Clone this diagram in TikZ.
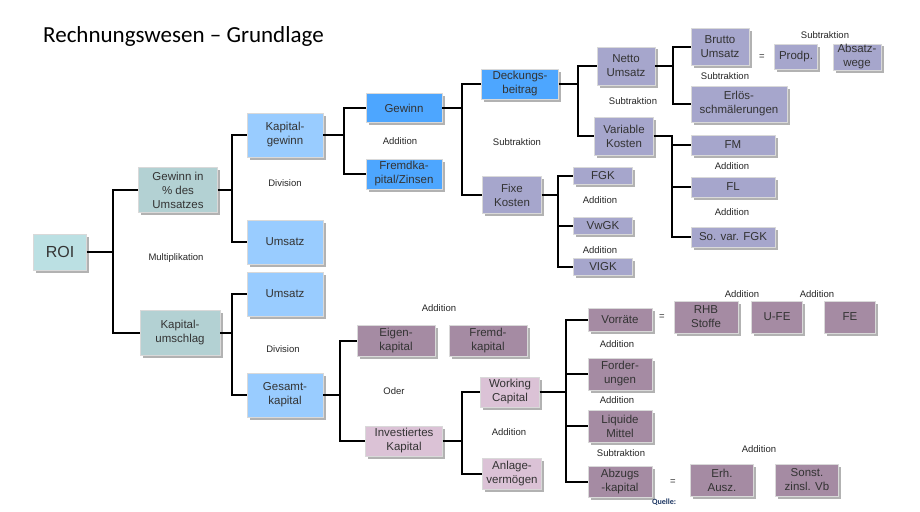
\documentclass[tikz,border=0pt]{standalone}
\usepackage{fontspec}
\setmainfont{Liberation Sans}
\newfontfamily\titlefont{Carlito}
\usetikzlibrary{shadows}
\definecolor{roicol}{HTML}{BBE0E3}
\definecolor{tealcol}{HTML}{B3D1D3}
\definecolor{lblue}{HTML}{99CCFF}
\definecolor{dblue}{HTML}{4DA6FF}
\definecolor{lav}{HTML}{A6A6CC}
\definecolor{mauve}{HTML}{A58BA3}
\definecolor{pink}{HTML}{DBC2D6}
\definecolor{quellecol}{HTML}{1F3864}
\tikzset{
  box/.style={draw=gray!30, line width=0.5pt, inner sep=0pt, align=center, text=black!80,
    font=\fontsize{11.5}{14}\selectfont,
    drop shadow={shadow xshift=2.5pt, shadow yshift=-2.5pt, fill=black!30, opacity=1}},
  sz/.style 2 args={minimum width=#1pt, minimum height=#2pt},
  lbl/.style={inner sep=0pt, text=black!85, font=\fontsize{9.5}{11}\selectfont},
  conn/.style={line width=1.6pt, black}
}
\begin{document}
\begin{tikzpicture}[x=1pt,y=-1pt]
\fill[white] (0,0) rectangle (920,511);
\useasboundingbox (0,0) rectangle (920,511);
\node[anchor=base west, inner sep=0pt, font=\titlefont\fontsize{23}{27}\selectfont] (title) at (43,42) {Rechnungswesen – Grundlage};
\node[box, sz={53}{36}, fill=roicol, font=\fontsize{16}{18}\selectfont] (roi) at (60,252) {ROI};
\node[box, sz={79}{45}, fill=tealcol] (gpu) at (178,190) {Gewinn in\\\% des\\Umsatzes};
\node[box, sz={80}{45}, fill=tealcol] (kum) at (180,333) {Kapital-\\umschlag};
\node[box, sz={76}{44}, fill=lblue] (kgw) at (285,135) {Kapital-\\gewinn};
\node[box, sz={76}{44}, fill=lblue] (ums1) at (285,242) {Umsatz};
\node[box, sz={76}{44}, fill=lblue] (ums2) at (285,294) {Umsatz};
\node[box, sz={76}{44}, fill=lblue] (gka) at (285,395) {Gesamt-\\kapital};
\node[box, sz={76}{29}, fill=dblue] (gew) at (404,108) {Gewinn};
\node[box, sz={76}{30}, fill=dblue] (fkz) at (404,174) {Fremdka-\\pital/Zinsen};
\node[box, sz={77}{30}, fill=dblue] (dbt) at (520,84) {Deckungs-\\beitrag};
\node[box, sz={59}{37}, fill=lav] (fix) at (512,195) {Fixe\\Kosten};
\node[box, sz={58}{38}, fill=lav] (net) at (626,66) {Netto\\Umsatz};
\node[box, sz={59}{38}, fill=lav] (var) at (624,136) {Variable\\Kosten};
\node[box, sz={58}{37}, fill=lav] (bru) at (720,47) {Brutto\\Umsatz};
\node[box, sz={43}{25}, fill=lav] (prd) at (796,57) {Prodp.};
\node[box, sz={48}{26}, fill=lav] (abw) at (857,57) {Absatz-\\wege};
\node[box, sz={96}{36}, fill=lav] (erl) at (739,104) {Erlös-\\schmälerungen};
\node[box, sz={84}{20}, fill=lav] (fm) at (733,145) {FM};
\node[box, sz={84}{20}, fill=lav] (fl) at (733,187) {FL};
\node[box, sz={84}{20}, fill=lav] (svf) at (733,237) {So. var. FGK};
\node[box, sz={59}{17}, fill=lav] (fgk) at (603,176) {FGK};
\node[box, sz={59}{17}, fill=lav] (vwg) at (603,226) {VwGK};
\node[box, sz={59}{17}, fill=lav] (vig) at (603,267) {VIGK};
\node[box, sz={78}{31}, fill=mauve] (eig) at (396,341) {Eigen-\\kapital};
\node[box, sz={78}{31}, fill=mauve] (frk) at (488,341) {Fremd-\\kapital};
\node[box, sz={77}{30}, fill=pink] (inv) at (404,441) {Investiertes\\Kapital};
\node[box, sz={59}{30}, fill=pink] (wcp) at (510,392) {Working\\Capital};
\node[box, sz={59}{31}, fill=pink] (anl) at (512,474) {Anlage-\\vermögen};
\node[box, sz={64}{23}, fill=mauve] (vor) at (620,320) {Vorräte};
\node[box, sz={64}{32}, fill=mauve] (rhb) at (706,317) {RHB\\Stoffe};
\node[box, sz={51}{32}, fill=mauve] (ufe) at (777,317) {U-FE};
\node[box, sz={51}{32}, fill=mauve] (fe) at (850,317) {FE};
\node[box, sz={64}{32}, fill=mauve] (ford) at (620,374) {Forder-\\ungen};
\node[box, sz={64}{32}, fill=mauve] (liq) at (620,426) {Liquide\\Mittel};
\node[box, sz={64}{31}, fill=mauve] (abz) at (620,482) {Abzugs\\-kapital};
\node[box, sz={63}{32}, fill=mauve] (erh) at (722,480) {Erh.\\Ausz.};
\node[box, sz={63}{32}, fill=mauve] (son) at (807,480) {Sonst.\\zinsl. Vb};
\node[lbl] (l1) at (176,258) {Multiplikation};
\node[lbl] (l2) at (285,183) {Division};
\node[lbl] (l3) at (400,141) {Addition};
\node[lbl] (l4) at (517,142) {Subtraktion};
\node[lbl] (l5) at (633,101) {Subtraktion};
\node[lbl] (l6) at (725,76) {Subtraktion};
\node[lbl] (l7) at (825,35) {Subtraktion};
\node[lbl] (l8) at (762,57) {=};
\node[lbl] (l9) at (732,166) {Addition};
\node[lbl] (l10) at (732,212) {Addition};
\node[lbl] (l11) at (600,200) {Addition};
\node[lbl] (l12) at (600,250) {Addition};
\node[lbl] (l13) at (283,349) {Division};
\node[lbl] (l14) at (439,308) {Addition};
\node[lbl] (l15) at (394,391) {Oder};
\node[lbl] (l16) at (509,432) {Addition};
\node[lbl] (l17) at (662,317) {=};
\node[lbl] (l18) at (742,294) {Addition};
\node[lbl] (l19) at (817,294) {Addition};
\node[lbl] (l20) at (617,344) {Addition};
\node[lbl] (l21) at (617,400) {Addition};
\node[lbl] (l22) at (621,453) {Subtraktion};
\node[lbl] (l23) at (673,482) {=};
\node[lbl] (l24) at (759,449) {Addition};
\node[inner sep=0pt, text=quellecol, font=\titlefont\bfseries\fontsize{8}{9}\selectfont] (quelle) at (664,502) {Quelle:};
\draw[conn](roi.east) -- ++(26,0) |- (gpu.west);
\draw[conn](roi.east) -- ++(26,0) |- (kum.west);
\draw[conn](gpu.east) -- ++(14,0) |- (kgw.west);
\draw[conn](gpu.east) -- ++(14,0) |- (ums1.west);
\draw[conn](kum.east) -- ++(12,0) |- (ums2.west);
\draw[conn](kum.east) -- ++(12,0) |- (gka.west);
\draw[conn](kgw.east) -- ++(21,0) |- (gew.west);
\draw[conn](kgw.east) -- ++(21,0) |- (fkz.west);
\draw[conn](gew.east) -- ++(20,0) |- (dbt.west);
\draw[conn](gew.east) -- ++(20,0) |- (fix.west);
\draw[conn](dbt.east) -- ++(19,0) |- (net.west);
\draw[conn](dbt.east) -- ++(19,0) |- (var.west);
\draw[conn](net.east) -- ++(18,0) |- (bru.west);
\draw[conn](net.east) -- ++(18,0) |- (erl.west);
\draw[conn](var.east) -- ++(18,0) |- (fm.west);
\draw[conn](var.east) -- ++(18,0) |- (fl.west);
\draw[conn](var.east) -- ++(18,0) |- (svf.west);
\draw[conn](fix.east) -- ++(16,0) |- (fgk.west);
\draw[conn](fix.east) -- ++(16,0) |- (vwg.west);
\draw[conn](fix.east) -- ++(16,0) |- (vig.west);
\draw[conn](gka.east) -- ++(17,0) |- (eig.west);
\draw[conn](gka.east) -- ++(17,0) |- (inv.west);
\draw[conn](inv.east) -- ++(19,0) |- (wcp.west);
\draw[conn](inv.east) -- ++(19,0) |- (anl.west);
\draw[conn](wcp.east) -- ++(26,0) |- (vor.west);
\draw[conn](wcp.east) -- ++(26,0) |- (ford.west);
\draw[conn](wcp.east) -- ++(26,0) |- (liq.west);
\draw[conn](wcp.east) -- ++(26,0) |- (abz.west);
\end{tikzpicture}
\end{document}
